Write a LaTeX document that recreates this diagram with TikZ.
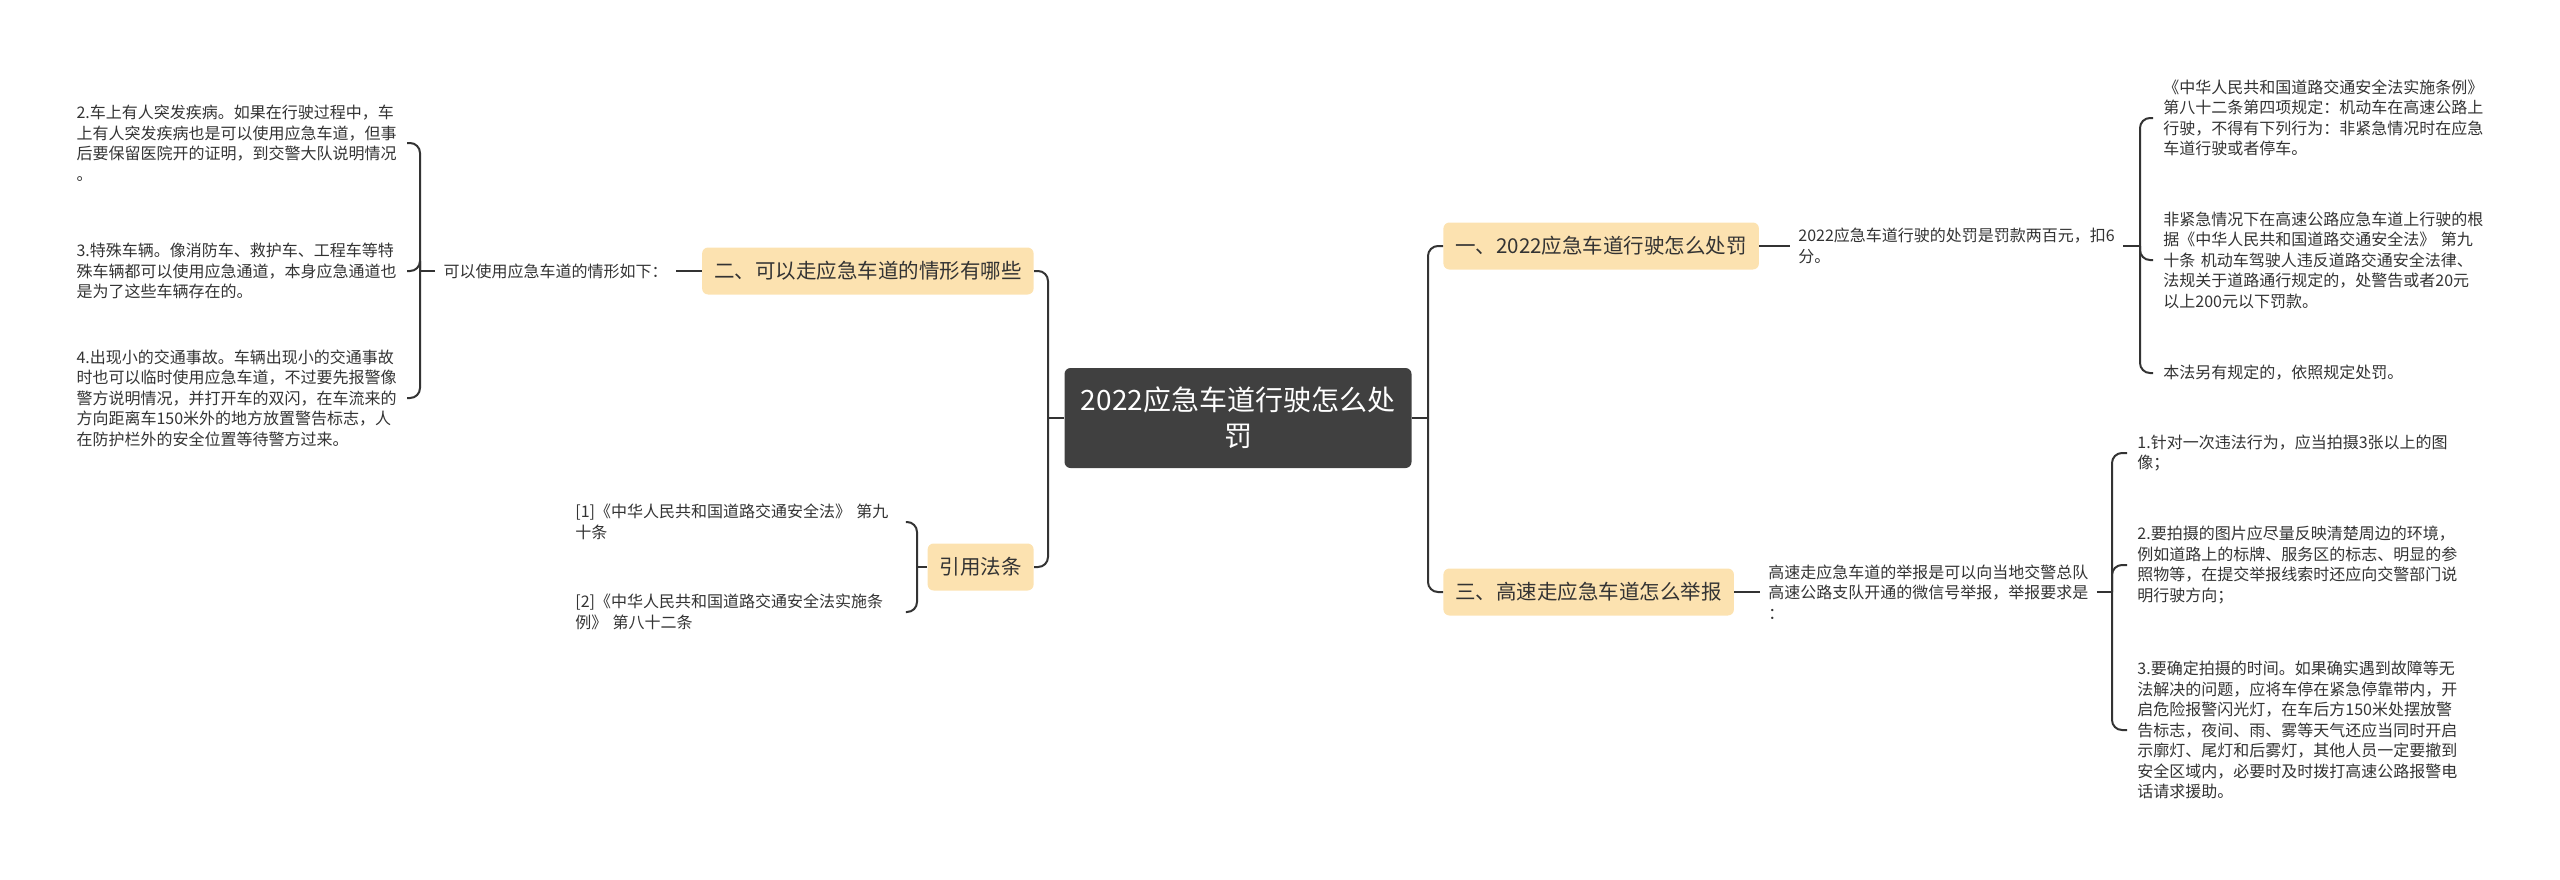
\documentclass[tikz,border=0pt]{standalone}
\usepackage{fontspec}
\usepackage{xcolor}
\usepackage{tikz}
\newfontfamily\cjk{Noto Sans CJK SC}
\definecolor{rootfill}{HTML}{404040}
\definecolor{branchfill}{HTML}{FCE2B0}
\definecolor{linec}{HTML}{333333}

\begin{document}
\begin{tikzpicture}[x=0.5pt, y=-0.5pt,
  rootbox/.style={fill=rootfill,rounded corners=3pt,text=white,align=center,font=\cjk\fontsize{14}{18}\selectfont,minimum width=173.5pt,minimum height=50pt},
  branchbox/.style={fill=branchfill,rounded corners=3pt,text=linec,font=\cjk\fontsize{10.25}{12}\selectfont,inner xsep=6pt,minimum height=23.5pt},
  leafbox/.style={text=linec,align=left,font=\cjk\fontsize{8}{10.25}\selectfont,inner xsep=4pt,inner ysep=0pt},
  detailbox/.style={leafbox,inner xsep=5pt,text width=160pt},
  link/.style={draw=linec,line width=1pt,rounded corners=5pt}]
\useasboundingbox (0,0) rectangle (2560,879);

\node[rootbox] (root) at (1238,418) {2022应急车道行驶怎么处\\罚};
\node[branchbox,anchor=west] (b1) at (1443,246) {一、2022应急车道行驶怎么处罚};
\node[branchbox,anchor=east] (b2) at (1034,271) {二、可以走应急车道的情形有哪些};
\node[branchbox,anchor=west] (b3) at (1443,592) {三、高速走应急车道怎么举报};
\node[branchbox,anchor=east] (b4) at (1034,567) {引用法条};

\node[leafbox,anchor=west] (l1) at (1790,246) {2022应急车道行驶的处罚是罚款两百元，扣6\\分。};
\node[leafbox,anchor=east] (l2) at (676,271) {可以使用应急车道的情形如下：};
\node[leafbox,anchor=west] (l3) at (1760,592) {高速走应急车道的举报是可以向当地交警总队\\高速公路支队开通的微信号举报，举报要求是\\：};

\node[detailbox,anchor=west] (d11) at (2153,118) {《中华人民共和国道路交通安全法实施条例》\\第八十二条第四项规定：机动车在高速公路上\\行驶，不得有下列行为：非紧急情况时在应急\\车道行驶或者停车。};
\node[detailbox,anchor=west] (d12) at (2153,260) {非紧急情况下在高速公路应急车道上行驶的根\\据《中华人民共和国道路交通安全法》 第九\\十条 机动车驾驶人违反道路交通安全法律、\\法规关于道路通行规定的，处警告或者20元\\以上200元以下罚款。};
\node[detailbox,anchor=west] (d13) at (2153,373) {本法另有规定的，依照规定处罚。};

\node[detailbox,anchor=east] (d21) at (407,143) {2.车上有人突发疾病。如果在行驶过程中，车\\上有人突发疾病也是可以使用应急车道，但事\\后要保留医院开的证明，到交警大队说明情况\\。};
\node[detailbox,anchor=east] (d22) at (407,271) {3.特殊车辆。像消防车、救护车、工程车等特\\殊车辆都可以使用应急通道，本身应急通道也\\是为了这些车辆存在的。};
\node[detailbox,anchor=east] (d23) at (407,398) {4.出现小的交通事故。车辆出现小的交通事故\\时也可以临时使用应急车道，不过要先报警像\\警方说明情况，并打开车的双闪，在车流来的\\方向距离车150米外的地方放置警告标志，人\\在防护栏外的安全位置等待警方过来。};

\node[detailbox,anchor=west] (d31) at (2127,453) {1.针对一次违法行为，应当拍摄3张以上的图\\像；};
\node[detailbox,anchor=west] (d32) at (2127,565) {2.要拍摄的图片应尽量反映清楚周边的环境，\\例如道路上的标牌、服务区的标志、明显的参\\照物等，在提交举报线索时还应向交警部门说\\明行驶方向；};
\node[detailbox,anchor=west] (d33) at (2127,730) {3.要确定拍摄的时间。如果确实遇到故障等无\\法解决的问题，应将车停在紧急停靠带内，开\\启危险报警闪光灯，在车后方150米处摆放警\\告标志，夜间、雨、雾等天气还应当同时开启\\示廓灯、尾灯和后雾灯，其他人员一定要撤到\\安全区域内，必要时及时拨打高速公路报警电\\话请求援助。};

\node[detailbox,anchor=west] (d41) at (565,522) {[1]《中华人民共和国道路交通安全法》 第九\\十条};
\node[detailbox,anchor=west] (d42) at (565,612) {[2]《中华人民共和国道路交通安全法实施条\\例》 第八十二条};

% trunks
\coordinate (jl) at (1048,418);
\coordinate (jr) at (1428,418);
\draw[link] (root.west) -- (jl);
\draw[link] (b2.east) -| (jl);
\draw[link] (b4.east) -| (jl);
\draw[link] (root.east) -- (jr);
\draw[link] (b1.west) -| (jr);
\draw[link] (b3.west) -| (jr);

% leaves
\draw[link] (b1.east) -- (l1.west);
\draw[link] (b2.west) -- (l2.east);
\draw[link] (b3.east) -- (l3.west);

% brackets
\coordinate (k1) at (2140,246);
\coordinate (k2) at (420,271);
\coordinate (k3) at (2112,592);
\coordinate (k4) at (917,567);
\draw[link] (l1.east) -- (k1);
\foreach \d in {d11,d12,d13} \draw[link] (\d.west) -| (k1);
\draw[link] (l2.west) -- (k2);
\foreach \d in {d21,d22,d23} \draw[link] (\d.east) -| (k2);
\draw[link] (l3.east) -- (k3);
\foreach \d in {d31,d32,d33} \draw[link] (\d.west) -| (k3);
\draw[link] (b4.west) -- (k4);
\foreach \d in {d41,d42} \draw[link] (\d.east) -| (k4);
\end{tikzpicture}
\end{document}
